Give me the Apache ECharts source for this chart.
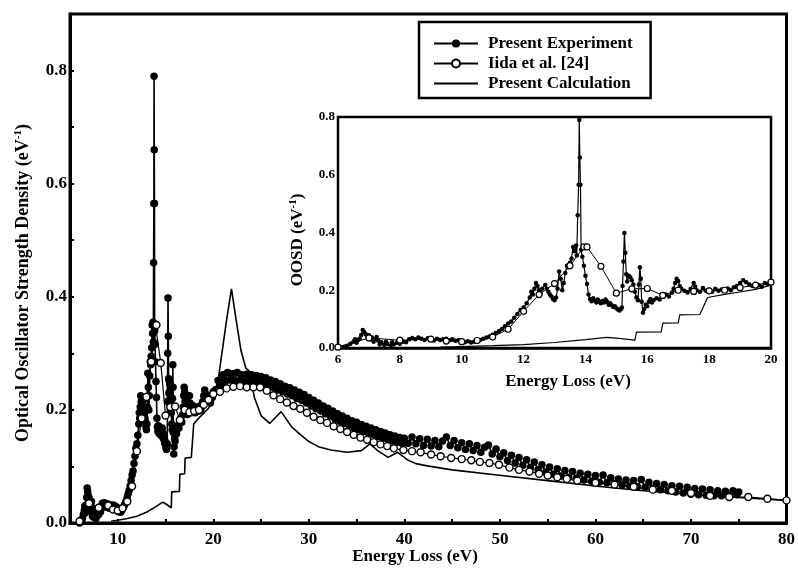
<!DOCTYPE html>
<html>
<head>
<meta charset="utf-8">
<script src="https://cdn.jsdelivr.net/npm/echarts@6/dist/echarts.min.js"></script>
<style>html,body{margin:0;padding:0;background:#fff}#c{width:798px;height:568px}</style>
</head>
<body>
<div id="c"></div>
<script>
// Present Experiment: [energy (eV), OOSD (eV^-1)]
const experiment = [
[6.0,0.000],[6.1,0.002],[6.2,0.004],[6.3,0.008],[6.4,0.015],[6.5,0.022],[6.55,0.030],[6.6,0.018],[6.65,0.028],[6.7,0.032],
[6.75,0.045],[6.8,0.062],[6.85,0.055],[6.9,0.048],[6.95,0.040],[7.0,0.044],[7.05,0.030],[7.1,0.036],[7.15,0.022],[7.2,0.030],
[7.25,0.038],[7.3,0.025],[7.35,0.012],[7.4,0.020],[7.5,0.010],[7.55,0.022],[7.6,0.015],[7.7,0.008],[7.75,0.020],[7.8,0.012],
[7.9,0.018],[8.0,0.015],[8.1,0.022],[8.2,0.020],[8.3,0.030],[8.4,0.035],[8.5,0.030],[8.6,0.036],[8.7,0.032],[8.8,0.028],
[8.9,0.034],[9.0,0.030],[9.1,0.026],[9.2,0.032],[9.3,0.028],[9.4,0.030],[9.5,0.032],[9.6,0.027],[9.7,0.030],[9.8,0.025],
[9.9,0.028],[10.0,0.024],[10.1,0.020],[10.2,0.023],[10.3,0.019],[10.4,0.022],[10.5,0.025],[10.6,0.028],[10.7,0.032],[10.8,0.036],
[10.9,0.040],[11.0,0.046],[11.1,0.052],[11.2,0.058],[11.3,0.066],[11.4,0.075],[11.5,0.085],[11.6,0.092],[11.7,0.105],[11.8,0.118],
[11.9,0.132],[12.0,0.140],[12.1,0.155],[12.2,0.175],[12.25,0.195],[12.3,0.185],[12.35,0.205],[12.4,0.225],[12.45,0.215],[12.5,0.200],
[12.55,0.190],[12.6,0.205],[12.7,0.218],[12.75,0.205],[12.8,0.195],[12.85,0.185],[12.9,0.178],[12.95,0.170],[13.0,0.165],[13.05,0.175],
[13.1,0.205],[13.15,0.265],[13.2,0.240],[13.25,0.200],[13.3,0.225],[13.35,0.260],[13.4,0.285],[13.45,0.280],[13.5,0.295],[13.55,0.310],
[13.6,0.350],[13.65,0.335],[13.7,0.355],[13.72,0.320],[13.75,0.460],[13.78,0.565],[13.8,0.790],[13.82,0.660],[13.84,0.565],[13.86,0.340],
[13.9,0.316],[13.95,0.285],[14.0,0.250],[14.05,0.222],[14.1,0.185],[14.15,0.170],[14.2,0.162],[14.25,0.172],[14.3,0.165],[14.35,0.158],
[14.4,0.168],[14.45,0.160],[14.5,0.155],[14.55,0.163],[14.6,0.158],[14.65,0.168],[14.7,0.160],[14.75,0.150],[14.8,0.155],[14.85,0.148],
[14.9,0.142],[14.95,0.145],[15.0,0.138],[15.05,0.133],[15.1,0.130],[15.15,0.135],[15.18,0.140],[15.2,0.215],[15.23,0.300],[15.26,0.398],
[15.29,0.330],[15.32,0.255],[15.35,0.230],[15.4,0.250],[15.45,0.245],[15.5,0.235],[15.55,0.220],[15.6,0.195],[15.65,0.175],[15.7,0.165],
[15.73,0.220],[15.76,0.280],[15.79,0.240],[15.82,0.160],[15.86,0.122],[15.9,0.135],[15.95,0.150],[16.0,0.145],[16.05,0.160],[16.1,0.170],
[16.15,0.158],[16.2,0.165],[16.3,0.172],[16.4,0.168],[16.5,0.180],[16.6,0.185],[16.7,0.178],[16.8,0.192],[16.85,0.205],[16.9,0.225],
[16.95,0.240],[17.0,0.232],[17.05,0.215],[17.1,0.205],[17.2,0.198],[17.3,0.192],[17.4,0.205],[17.5,0.225],[17.55,0.212],[17.6,0.200],
[17.7,0.195],[17.8,0.208],[17.9,0.198],[18.0,0.202],[18.1,0.195],[18.2,0.205],[18.3,0.198],[18.4,0.203],[18.5,0.198],[18.6,0.206],
[18.7,0.200],[18.8,0.210],[18.9,0.215],[19.0,0.225],[19.1,0.235],[19.2,0.228],[19.3,0.220],[19.4,0.215],[19.5,0.222],[19.6,0.218],
[19.7,0.212],[19.8,0.225],[19.9,0.222],[20.0,0.232],
[20.25,0.236],[20.5,0.252],[20.75,0.244],[21.0,0.262],[21.25,0.250],[21.5,0.266],[21.75,0.253],[22.0,0.264],[22.25,0.251],[22.5,0.266],
[22.75,0.252],[23.0,0.262],[23.25,0.250],[23.5,0.263],[23.75,0.251],[24.0,0.262],[24.25,0.249],[24.5,0.261],[24.75,0.250],[25.0,0.259],
[25.25,0.246],[25.5,0.257],[25.75,0.242],[26.0,0.253],[26.25,0.240],[26.5,0.250],[26.75,0.235],[27.0,0.246],[27.25,0.232],[27.5,0.242],
[27.75,0.228],[28.0,0.239],[28.25,0.225],[28.5,0.235],[28.75,0.220],[29.0,0.231],[29.25,0.217],[29.5,0.227],[29.75,0.212],[30.0,0.222],
[30.25,0.207],[30.5,0.217],[30.75,0.202],[31.0,0.212],[31.25,0.198],[31.5,0.207],[31.75,0.193],[32.0,0.203],[32.25,0.189],[32.5,0.198],
[32.75,0.184],[33.0,0.193],[33.25,0.180],[33.5,0.189],[33.75,0.176],[34.0,0.185],[34.25,0.172],[34.5,0.181],[34.75,0.168],[35.0,0.178],
[35.25,0.165],[35.5,0.174],[35.75,0.162],[36.0,0.171],[36.25,0.159],[36.5,0.168],[36.75,0.156],[37.0,0.165],[37.25,0.153],[37.5,0.162],
[37.75,0.150],[38.0,0.159],[38.25,0.148],[38.5,0.156],[38.75,0.145],[39.0,0.154],[39.25,0.143],[39.5,0.151],[39.75,0.141],[40.0,0.150],
[40.4,0.141],[40.8,0.152],[41.2,0.140],[41.6,0.149],[42.0,0.137],[42.4,0.148],[42.8,0.136],[43.2,0.146],[43.6,0.135],[44.0,0.145],
[44.4,0.152],[44.8,0.137],[45.2,0.146],[45.6,0.133],[46.0,0.142],[46.4,0.130],[46.8,0.140],[47.2,0.128],[47.6,0.137],[48.0,0.125],
[48.4,0.134],[48.8,0.138],[49.2,0.122],[49.6,0.131],[50.0,0.117],[50.4,0.124],[50.8,0.110],[51.2,0.120],[51.6,0.106],[52.0,0.116],
[52.4,0.102],[52.8,0.112],[53.2,0.098],[53.6,0.108],[54.0,0.094],[54.4,0.103],[54.8,0.090],[55.2,0.099],[55.6,0.086],[56.0,0.096],
[56.4,0.083],[56.8,0.093],[57.2,0.081],[57.6,0.091],[58.0,0.079],[58.4,0.088],[58.8,0.076],[59.2,0.086],[59.6,0.074],[60.0,0.084],
[60.4,0.072],[60.8,0.085],[61.2,0.071],[61.6,0.080],[62.0,0.069],[62.4,0.078],[62.8,0.067],[63.2,0.076],[63.6,0.065],[64.0,0.075],
[64.4,0.064],[64.8,0.077],[65.2,0.063],[65.6,0.072],[66.0,0.061],[66.4,0.070],[66.8,0.059],[67.2,0.068],[67.6,0.057],[68.0,0.066],
[68.4,0.055],[68.8,0.065],[69.2,0.053],[69.6,0.063],[70.0,0.051],[70.4,0.061],[70.8,0.050],[71.2,0.060],[71.6,0.049],[72.0,0.059],
[72.4,0.048],[72.8,0.057],[73.2,0.048],[73.6,0.056],[74.0,0.049],[74.4,0.057],[74.8,0.050],[75.0,0.055]
];
// Iida et al. [24]
const iida = [
[6.0,0.003],[7.0,0.035],[8.0,0.027],[9.0,0.031],[9.5,0.024],[10.0,0.022],[10.5,0.026],[11.0,0.038],[11.5,0.065],[12.0,0.127],
[12.5,0.185],[13.0,0.223],[13.5,0.285],[13.95,0.350],[14.05,0.350],[14.5,0.283],[15.0,0.190],[15.5,0.205],[16.0,0.206],[16.5,0.182],
[17.0,0.200],[17.5,0.196],[18.0,0.198],[18.5,0.200],[19.0,0.209],[19.5,0.218],[20.0,0.228],[20.7,0.232],[21.4,0.238],[22.1,0.241],
[22.8,0.242],[23.5,0.240],[24.2,0.240],[24.9,0.240],[25.6,0.234],[26.3,0.226],[27.0,0.219],[27.7,0.213],[28.4,0.207],[29.1,0.202],
[29.8,0.195],[30.5,0.188],[31.2,0.182],[31.9,0.177],[32.6,0.171],[33.3,0.166],[34.0,0.161],[34.7,0.156],[35.4,0.151],[36.1,0.147],
[36.8,0.143],[37.5,0.139],[38.2,0.136],[38.9,0.132],[39.9,0.129],[40.8,0.127],[41.7,0.125],[42.8,0.121],[43.8,0.118],[44.9,0.115],
[46.0,0.113],[47.0,0.111],[47.9,0.108],[48.9,0.106],[49.9,0.103],[51.0,0.098],[52.0,0.094],[53.1,0.091],[54.1,0.087],[55.0,0.084],
[56.0,0.081],[57.0,0.078],[58.1,0.075],[60.0,0.071],[62.0,0.068],[64.0,0.064],[66.0,0.059],[68.0,0.057],[70.0,0.053],[72.0,0.048],
[74.0,0.046],[76.0,0.046],[78.0,0.043],[80.0,0.040]
];
// Present Calculation
const calculation = [
[9.3,0.003],[10.0,0.005],[11.0,0.008],[12.0,0.012],[13.0,0.019],[14.0,0.029],[14.7,0.037],[15.0,0.034],[15.6,0.027],[15.65,0.055],
[16.45,0.056],[16.5,0.086],[17.0,0.087],[17.05,0.115],[17.7,0.116],[17.95,0.175],[18.5,0.186],[19.0,0.194],[19.5,0.203],[20.0,0.218],
[20.5,0.252],[20.9,0.300],[21.4,0.360],[21.9,0.414],[22.4,0.358],[22.9,0.305],[23.4,0.274],[23.8,0.268],[24.3,0.222],[25.0,0.190],
[25.9,0.176],[27.1,0.197],[28.2,0.170],[29.0,0.158],[30.0,0.144],[31.0,0.135],[32.3,0.129],[34.0,0.125],[35.5,0.128],[36.4,0.140],
[37.2,0.128],[38.3,0.116],[39.3,0.125],[40.3,0.112],[41.2,0.105],[42.4,0.101],[45.0,0.094],[49.7,0.085],[55.0,0.075],[60.2,0.065],
[65.0,0.057],[70.6,0.050],[75.0,0.045],[80.0,0.040]
];
const mainXTicks = [10,20,30,40,50,60,70,80];
const mainYTicks = [0.0,0.2,0.4,0.6,0.8];

const FONT = '"Liberation Serif","Times New Roman",serif';
const chart = echarts.init(document.getElementById('c'), null, {renderer:'canvas'});
const axisCommon = (w) => ({
  axisLine:{show:true,onZero:false,lineStyle:{color:'#000',width:w}},
  splitLine:{show:false}
});
const titleStyle = (size) => ({fill:'#000',font:'bold '+size+'px '+FONT,align:'center',verticalAlign:'middle'});

chart.setOption({
  animation:false,
  backgroundColor:'#fff',
  grid:[
    {left:70,top:14,right:10,bottom:45,show:true,borderColor:'#000',borderWidth:3,backgroundColor:'transparent'},
    {left:338,top:117,right:27,bottom:220,show:true,borderColor:'#000',borderWidth:2.5,backgroundColor:'#fff',z:3}
  ],
  legend:{
    orient:'vertical',left:419,top:22,
    data:['Present Experiment','Iida et al. [24]',
      {name:'Present Calculation',itemStyle:{color:'rgba(0,0,0,0)',borderColor:'rgba(0,0,0,0)',borderWidth:0}}],
    itemWidth:44,itemHeight:10,itemGap:3,
    padding:[13,18,6,14],
    borderColor:'#000',borderWidth:2.5,backgroundColor:'#fff',
    textStyle:{fontFamily:FONT,fontWeight:'bold',fontSize:17,color:'#000',lineHeight:17,padding:[0,0,0,5]},
    z:10
  },
  xAxis:[
    Object.assign({gridIndex:0,type:'value',min:5,max:80,interval:5,
      axisTick:{show:true,inside:true,length:4,lineStyle:{width:2,color:'#000'}},
      axisLabel:{margin:8,color:'#000',fontFamily:FONT,fontWeight:'bold',fontSize:17,
        formatter:v=>mainXTicks.indexOf(v)>=0?String(v):''}}, axisCommon(3)),
    Object.assign({gridIndex:1,type:'value',min:6,max:20,interval:2,
      axisTick:{show:true,inside:true,length:3,lineStyle:{width:2,color:'#000'}},
      axisLabel:{margin:5,color:'#000',fontFamily:FONT,fontWeight:'bold',fontSize:13}}, axisCommon(2.5))
  ],
  yAxis:[
    Object.assign({gridIndex:0,type:'value',min:0,max:0.9,interval:0.1,
      axisTick:{show:true,inside:true,length:4,lineStyle:{width:2,color:'#000'}},
      axisLabel:{margin:3,color:'#000',fontFamily:FONT,fontWeight:'bold',fontSize:17,
        formatter:v=>{const r=Math.round(v*10)/10;return mainYTicks.indexOf(r)>=0?r.toFixed(1):'';}}}, axisCommon(3)),
    Object.assign({gridIndex:1,type:'value',min:0,max:0.8,interval:0.2,
      axisTick:{show:true,inside:true,length:3,lineStyle:{width:2,color:'#000'}},
      axisLabel:{margin:3,color:'#000',fontFamily:FONT,fontWeight:'bold',fontSize:13,
        formatter:v=>(Math.round(v*10)/10).toFixed(1)}}, axisCommon(2.5))
  ],
  series:[
    {name:'Present Calculation',type:'line',xAxisIndex:0,yAxisIndex:0,data:calculation,showSymbol:false,symbol:'none',
      lineStyle:{color:'#000',width:1.6},itemStyle:{color:'#000'},z:2},
    {name:'Present Experiment',type:'line',xAxisIndex:0,yAxisIndex:0,data:experiment,symbol:'circle',symbolSize:7.5,
      lineStyle:{color:'#000',width:1.6},itemStyle:{color:'#000'},z:3},
    {name:'Iida et al. [24]',type:'line',xAxisIndex:0,yAxisIndex:0,data:iida,symbol:'circle',symbolSize:7,
      lineStyle:{color:'#000',width:1.2},itemStyle:{color:'#fff',borderColor:'#000',borderWidth:1.4},z:4},
    {name:'Present Calculation',type:'line',xAxisIndex:1,yAxisIndex:1,data:calculation,showSymbol:false,symbol:'none',
      lineStyle:{color:'#000',width:1.2},itemStyle:{color:'#000'},z:5},
    {name:'Present Experiment',type:'line',xAxisIndex:1,yAxisIndex:1,data:experiment,symbol:'circle',symbolSize:4.5,
      lineStyle:{color:'#000',width:1.2},itemStyle:{color:'#000'},z:6},
    {name:'Iida et al. [24]',type:'line',xAxisIndex:1,yAxisIndex:1,data:iida,symbol:'circle',symbolSize:6,
      lineStyle:{color:'#000',width:1},itemStyle:{color:'#fff',borderColor:'#000',borderWidth:1.2},z:7}
  ],
  graphic:[
    {type:'text',x:415,y:557,style:Object.assign({text:'Energy Loss (eV)'},titleStyle(17)),z:20},
    {type:'text',x:568,y:382,style:Object.assign({text:'Energy Loss (eV)'},titleStyle(17)),z:20},
    {type:'text',x:23,y:283,rotation:Math.PI/2,
      style:Object.assign({text:'Optical Oscillator Strength Density (eV{s|-1})',
        rich:{s:{font:'bold 11px '+FONT,fill:'#000',verticalAlign:'top',lineHeight:20}}},titleStyle(18),{lineHeight:20}),z:20},
    {type:'text',x:298,y:240,rotation:Math.PI/2,
      style:Object.assign({text:'OOSD (eV{s|-1})',
        rich:{s:{font:'bold 11px '+FONT,fill:'#000',verticalAlign:'top',lineHeight:20}}},titleStyle(17),{lineHeight:20}),z:20}
  ]
});
</script>
</body>
</html>
